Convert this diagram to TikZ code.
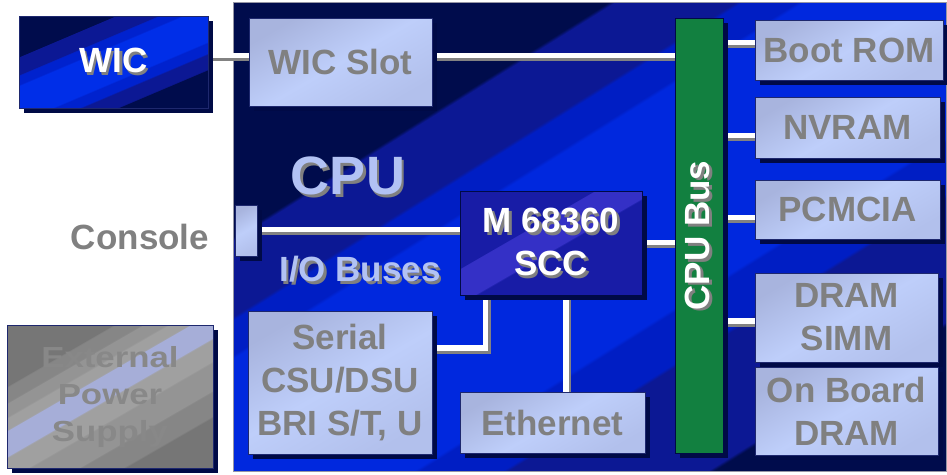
\documentclass[tikz,border=0pt]{standalone}
\usepackage{fontspec}
\setmainfont{Liberation Sans}
\newfontfamily\widefont{Liberation Sans}[FakeStretch=1.2]
\usetikzlibrary{shadows,calc}
\pgfdeclarelayer{back}
\pgfdeclarelayer{wires}
\pgfsetlayers{back,wires,main}

\definecolor{navysh}{RGB}{0,10,70}
\definecolor{cpudark}{RGB}{0,12,76}
\definecolor{cpumid}{RGB}{12,24,148}
\definecolor{cpublue}{RGB}{0,30,196}
\definecolor{cpubright}{RGB}{0,40,222}
\definecolor{cpuedge}{RGB}{150,150,165}
\definecolor{lbmain}{RGB}{190,206,250}
\definecolor{lbband}{RGB}{168,180,222}
\definecolor{lbband2}{RGB}{178,192,236}
\definecolor{txtgray}{RGB}{128,128,128}
\definecolor{txtlight}{RGB}{178,194,244}
\definecolor{busgreen}{RGB}{18,128,64}
\definecolor{sccdark}{RGB}{24,28,166}
\definecolor{scclight}{RGB}{52,48,198}
\definecolor{wicbright}{RGB}{0,46,232}
\definecolor{wicblue}{RGB}{0,34,206}
\definecolor{shgray}{RGB}{128,128,128}
\definecolor{wiresh}{RGB}{130,130,130}
\definecolor{psg1}{RGB}{118,118,118}
\definecolor{psg2}{RGB}{134,134,134}
\definecolor{psg3}{RGB}{148,148,148}
\definecolor{psg4}{RGB}{160,160,160}
\definecolor{psmid}{RGB}{166,174,216}
\definecolor{pstext}{RGB}{136,136,136}
\definecolor{edge}{RGB}{30,40,110}

\pgfdeclareverticalshading{cpushade}{100bp}{color(0bp)=(cpudark); color(26.4bp)=(cpudark);
  color(26.7bp)=(cpumid); color(36.1bp)=(cpumid); color(36.4bp)=(cpublue); color(40.3bp)=(cpublue);
  color(40.6bp)=(cpubright); color(57.6bp)=(cpubright); color(57.9bp)=(cpublue); color(60.5bp)=(cpublue);
  color(60.8bp)=(cpumid); color(66.5bp)=(cpumid); color(66.8bp)=(cpudark); color(100bp)=(cpudark)}
\pgfdeclareverticalshading{wicshade}{100bp}{color(0bp)=(cpudark); color(31.6bp)=(cpudark);
  color(31.9bp)=(cpumid); color(37.7bp)=(cpumid); color(38bp)=(wicblue); color(42.1bp)=(wicblue);
  color(42.4bp)=(wicbright); color(56.3bp)=(wicbright); color(56.6bp)=(wicblue); color(60.2bp)=(wicblue);
  color(60.5bp)=(cpumid); color(67.2bp)=(cpumid); color(67.5bp)=(cpudark); color(100bp)=(cpudark)}
\pgfdeclareverticalshading{sccshade}{100bp}{color(0bp)=(sccdark); color(47.1bp)=(sccdark);
  color(47.4bp)=(scclight); color(58.7bp)=(scclight); color(59bp)=(sccdark); color(100bp)=(sccdark)}
\pgfdeclareverticalshading{psshade}{100bp}{color(0bp)=(psg1); color(29bp)=(psg1);
  color(29.3bp)=(psg2); color(35.7bp)=(psg2); color(36bp)=(psg3); color(43.4bp)=(psg3);
  color(43.7bp)=(psg4); color(49.5bp)=(psg4); color(49.8bp)=(psmid); color(56.5bp)=(psmid);
  color(56.8bp)=(psg4); color(59.9bp)=(psg4); color(60.2bp)=(psg3); color(63.7bp)=(psg3);
  color(64bp)=(psg2); color(68bp)=(psg2); color(68.3bp)=(psg1); color(100bp)=(psg1)}

\newcommand\shtx[2]{\leavevmode\rlap{\hspace{2.5pt}\raisebox{-3pt}{\textcolor{#1}{#2}}}#2}
\newcommand\shtxr[2]{\leavevmode\rlap{\hspace{-2.5pt}\raisebox{-3pt}{\textcolor{#1}{#2}}}#2}

\tikzset{
  lbl/.style={font=\bfseries\fontsize{35}{43}\selectfont, inner sep=0pt, align=center},
  shad/.style={drop shadow={shadow xshift=5pt, shadow yshift=-5pt, fill=navysh, opacity=1}},
  lightbox/.style={lbl, rectangle, draw=edge, line width=0.6pt,
    top color=lbband, bottom color=lbband2, middle color=lbmain, shading angle=30,
    text=txtgray, shad},
  cpubox/.style={rectangle, draw=cpuedge, line width=0.8pt, shade, shading=cpushade, shading angle=32, inner sep=0pt},
  wicbox/.style={lbl, rectangle, draw=edge, line width=0.6pt, shade, shading=wicshade, shading angle=23,
    text=white, shad},
  sccbox/.style={lbl, rectangle, draw=navysh, line width=0.6pt, shade, shading=sccshade, shading angle=30,
    text=white, shad},
  busbox/.style={lbl, rectangle, draw=navysh, line width=0.6pt, fill=busgreen, text=white, shad},
  psbox/.style={lbl, rectangle, draw=edge, line width=0.6pt, shade, shading=psshade, shading angle=30,
    text=pstext, shad, font=\widefont\bfseries\fontsize{29}{37}\selectfont},
  wire/.style={draw=white, line width=5.5pt,
    preaction={draw=wiresh, line width=5.5pt, transform canvas={xshift=2.5pt, yshift=-3pt}}}
}

\begin{document}
\begin{tikzpicture}[x=1pt, y=-1pt]
\useasboundingbox (0,0) rectangle (947,474);

\begin{pgfonlayer}{back}
\node[cpubox, minimum width=713pt, minimum height=469pt] (CPU) at (589.5,236.5) {};
\end{pgfonlayer}

% outside boxes
\node[wicbox, minimum width=189pt, minimum height=92pt] (WIC) at (113.5,62) {\shtx{shgray}{WIC}};
\node[psbox, minimum width=206pt, minimum height=143pt] (PS) at (110,396.5) {External\\Power\\Supply};
\node[lbl, text=txtgray] (ConsoleLbl) at (140,237) {Console};

% labels on the CPU board
\node[lbl, text=txtlight, font=\bfseries\fontsize{54}{54}\selectfont] (CPUlbl) at (348,177) {\shtx{shgray}{CPU}};
\node[lbl, text=txtlight] (IOlbl) at (360,271) {\shtx{shgray}{I/O Buses}};

% boxes on the CPU board
\node[lightbox, minimum width=183pt, minimum height=88pt] (WICSlot) at (340.5,62) {WIC Slot};
\node[lightbox, minimum width=22pt, minimum height=51pt] (Console) at (246,230.5) {};
\node[sccbox, minimum width=182pt, minimum height=104pt] (SCC) at (551,243) {\shtx{shgray}{M 68360}\\\shtx{shgray}{SCC}};
\node[busbox, minimum width=48pt, minimum height=435pt] (CPUBus) at (699,235.5) {};
\node[lbl, text=white, rotate=90] (CPUBuslbl) at (CPUBus.center) {\shtxr{shgray}{CPU Bus}};
\node[lightbox, minimum width=188pt, minimum height=60pt] (BootROM) at (849,50) {Boot ROM};
\node[lightbox, minimum width=185pt, minimum height=61pt] (NVRAM) at (847.5,127.5) {NVRAM};
\node[lightbox, minimum width=185pt, minimum height=59pt] (PCMCIA) at (847.5,209.5) {PCMCIA};
\node[lightbox, minimum width=183pt, minimum height=89pt] (DRAM) at (846.5,317.5) {DRAM\\SIMM};
\node[lightbox, minimum width=183pt, minimum height=88pt] (OnBoard) at (846.5,411) {On Board\\DRAM};
\node[lightbox, minimum width=184pt, minimum height=143pt] (Serial) at (340,382.5) {Serial\\CSU/DSU\\BRI S/T, U};
\node[lightbox, minimum width=185pt, minimum height=61pt] (Ethernet) at (552.5,422.5) {Ethernet};

\begin{pgfonlayer}{wires}
\draw[wire] (WIC.east |- 0,55.5) -- (WICSlot.west |- 0,55.5);
\draw[wire] (WICSlot.east |- 0,55.5) -- (CPUBus.west |- 0,55.5);
\draw[wire] (Console.east |- 0,229.5) -- (SCC.west |- 0,229.5);
\draw[wire] (SCC.east |- 0,242.5) -- (CPUBus.west |- 0,242.5);
\draw[wire] (Serial.east |- 0,348) -| (SCC.south -| 485.5,0);
\draw[wire] (SCC.south -| 566,0) -- (Ethernet.north -| 566,0);
\draw[wire] (CPUBus.east |- 0,42.5) -- (BootROM.west |- 0,42.5);
\draw[wire] (CPUBus.east |- 0,135.5) -- (NVRAM.west |- 0,135.5);
\draw[wire] (CPUBus.east |- 0,217.5) -- (PCMCIA.west |- 0,217.5);
\draw[wire] (CPUBus.east |- 0,321) -- (DRAM.west |- 0,321);
\end{pgfonlayer}
\end{tikzpicture}
\end{document}
